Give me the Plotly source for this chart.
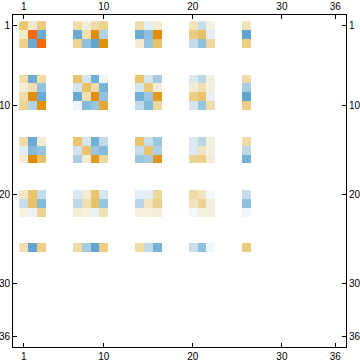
import plotly.graph_objects as go

# Nonzero columns of the matrix (1-based)
cols = [1, 2, 3, 7, 8, 9, 10, 14, 15, 16, 20, 21, 22, 26]
rows = [1, 2, 3, 7, 8, 9, 10, 14, 15, 16, 20, 21, 22, 26]

r1 = [0.55, 0.25, 0.5, 0.35, 0.2, 0.35, 0.42, 0.35, -0.15, 0.2, 0.3, -0.35, 0.12, 0.3]
r2 = [0.25, 1.0, -0.85, -0.85, 0.33, 0.85, -0.45, -0.85, -0.65, 0.85, 0.5, 0.6, -0.15, -0.9]
r3 = [0.45, -0.85, 1.0, 0.42, -0.65, -0.9, 0.82, 0.22, -0.6, 0.6, -0.35, -0.65, 0.38, 0.47]
r7 = [0.35, -0.85, 0.36, 0.58, -0.25, -0.8, -0.08, 0.58, -0.25, -0.52, -0.22, -0.4, 0.15, 0.36]
r8 = [0.2, 0.33, -0.63, -0.25, 0.6, 0.35, -0.78, -0.25, 0.52, 0.2, 0.2, 0.33, 0.15, -0.5]
r9 = [0.35, 0.85, -0.85, -0.85, 0.33, 0.85, -0.63, -0.8, -0.58, 0.78, 0.48, 0.58, -0.12, -0.9]
r10 = [0.42, -0.45, 0.83, -0.08, -0.7, -0.58, 0.72, -0.38, -0.7, 0.38, -0.25, -0.6, 0.35, 0.47]
r14 = [0.35, -0.85, 0.22, 0.58, -0.25, -0.8, -0.38, 0.58, -0.35, -0.58, -0.22, -0.42, 0.15, 0.36]
r15 = [-0.15, -0.7, -0.6, -0.28, 0.58, -0.58, -0.7, -0.35, 0.56, -0.47, -0.2, 0.28, 0.15, -0.38]
r16 = [0.22, 0.88, 0.6, -0.5, 0.22, 0.78, 0.38, -0.58, -0.52, 0.8, 0.42, 0.46, 0.2, -0.78]
r20 = [0.28, 0.58, -0.35, -0.22, 0.2, 0.58, -0.25, -0.15, -0.15, 0.38, 0.36, 0.28, -0.05, -0.35]
r21 = [-0.35, 0.6, -0.7, -0.4, 0.33, 0.6, -0.6, -0.42, 0.28, 0.45, 0.3, 0.42, 0.15, -0.65]
r22 = [0.12, -0.1, 0.42, 0.2, 0.15, -0.12, 0.32, 0.17, 0.17, 0.2, -0.05, 0.15, 0.18, -0.07]
r26 = [0.33, -0.9, 0.47, 0.36, -0.5, -0.9, 0.47, 0.36, -0.38, -0.78, -0.35, -0.65, -0.07, 0.5]

row_values = [r1, r2, r3, r7, r8, r9, r10, r14, r15, r16, r20, r21, r22, r26]

N = 36
tick_vals = [1, 10, 20, 30, 36]

z = [[0.0] * N for _ in range(N)]
for ri, vals in zip(rows, row_values):
    for cj, v in zip(cols, vals):
        z[ri - 1][cj - 1] = v

stops = [
    (-1.0, "#5A9FCD"), (-0.9, "#62A4D0"), (-0.8, "#72AFD5"), (-0.65, "#8FC0DD"),
    (-0.5, "#A8CCE2"), (-0.35, "#C6DDEB"), (-0.2, "#DDEAF3"), (-0.05, "#F3F8FA"),
    (0.0, "#FFFFFF"), (0.12, "#F3F3E0"), (0.2, "#F3EDD8"), (0.3, "#F1E3BC"),
    (0.4, "#EED597"), (0.5, "#EBCB80"), (0.6, "#E8C268"), (0.72, "#E4A838"),
    (0.82, "#E29010"), (0.9, "#E08800"), (1.0, "#FF6A00"),
]
colorscale = [[(v + 1) / 2, c] for v, c in stops]

idx = list(range(1, N + 1))
fig = go.Figure()
fig.add_trace(go.Heatmap(z=z, x=idx, y=idx, colorscale=colorscale, zmin=-1, zmax=1,
                         showscale=False, hoverinfo="skip"))
fig.add_trace(go.Scatter(x=[None], y=[None], xaxis="x2", yaxis="y2", showlegend=False))

xr = [-0.2, 37.2]
yr = [37.2, -0.2]
font = dict(family="Liberation Sans", size=10, color="black")
common = dict(tickmode="array", tickvals=tick_vals, ticks="inside", ticklen=4,
              tickcolor="black", showgrid=False, zeroline=False, showline=True,
              linecolor="black", linewidth=1, tickfont=font, automargin=False)

fig.update_layout(
    width=360, height=363,
    margin=dict(l=13, r=14, t=15, b=16),
    paper_bgcolor="white", plot_bgcolor="white",
    showlegend=False,
    xaxis=dict(range=xr, side="bottom", **common),
    yaxis=dict(range=yr, side="left", ticklabelstandoff=0, **common),
    xaxis2=dict(range=xr, side="top", overlaying="x", anchor="y2", **common),
    yaxis2=dict(range=yr, side="right", overlaying="y", anchor="x2", **common),
)

fig.write_html("out.html", config={"displayModeBar": False},
               post_script="document.body.style.margin='0';document.body.style.overflow='hidden';")
